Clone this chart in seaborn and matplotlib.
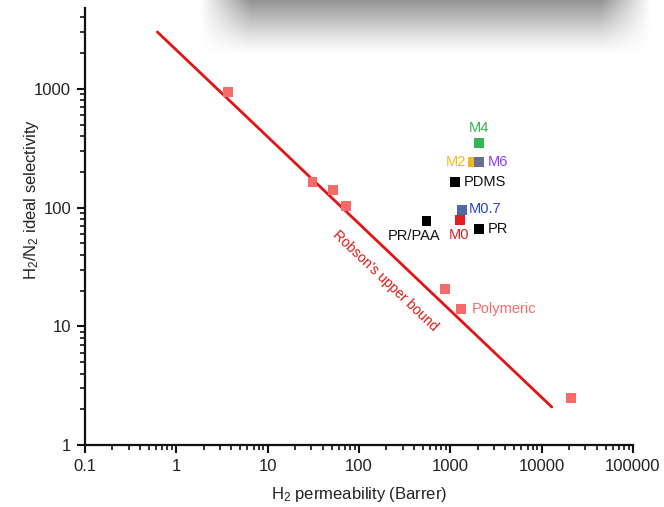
import numpy as np
import pandas as pd
import matplotlib
matplotlib.use("Agg")
import matplotlib.pyplot as plt
import seaborn as sns
from matplotlib.ticker import FixedLocator, LogLocator, NullFormatter, FuncFormatter

# ---- data ----
poly_x = [3.7, 31, 52, 72, 870, 1310, 20900]
poly_y = [940, 164, 141, 103, 20.6, 14.0, 2.5]

robson_x = [0.62, 12900]
robson_y = [3015, 2.09]

mem_names = ["M4", "M2", "M6", "PDMS", "M0.7", "M0", "PR/PAA", "PR"]
mem_x = [2070, 1780, 2070, 1125, 1340, 1280, 550, 2070]
mem_y = [350, 242, 242, 164, 95.5, 78.6, 77, 66]
mem_colors = ["#35b553", "#f2b526", "#6a6c95", "#000000", "#4a6aa8", "#e51c23", "#000000", "#000000"]
label_colors = ["#35b553", "#f2b526", "#8b3ff5", "#111111", "#2b44c8", "#e51c23", "#111111", "#111111"]

x_ticks = [0.1, 1, 10, 100, 1000, 10000, 100000]
y_ticks = [1, 10, 100, 1000]

# ---- style ----
sns.set_style("ticks")
plt.rcParams["font.family"] = ["Liberation Sans", "DejaVu Sans"]
plt.rcParams["mathtext.default"] = "regular"

fig = plt.figure(figsize=(6.64, 5.07), dpi=100)
ax = fig.add_axes([85 / 664, 62 / 507, (633 - 85) / 664, (445 - 8) / 507])

poly_df = pd.DataFrame({"x": poly_x, "y": poly_y})
mem_df = pd.DataFrame({"x": mem_x, "y": mem_y, "name": mem_names})
rob_df = pd.DataFrame({"x": robson_x, "y": robson_y})

sns.lineplot(data=rob_df, x="x", y="y", color="#e41414", lw=2.0, ax=ax)
sns.scatterplot(data=poly_df, x="x", y="y", marker="s", s=48, color="#f76a6a",
                edgecolor="none", ax=ax, zorder=3)
sns.scatterplot(data=mem_df, x="x", y="y", hue="name", palette=dict(zip(mem_names, mem_colors)),
                marker="s", s=48, edgecolor="none", ax=ax, legend=False, zorder=4)

ax.set_xscale("log")
ax.set_yscale("log")
ax.set_xlim(0.1, 100000)
ax.set_ylim(1, 4800)

ax.xaxis.set_major_locator(FixedLocator(x_ticks))
ax.yaxis.set_major_locator(FixedLocator(y_ticks))
ax.xaxis.set_minor_locator(LogLocator(base=10, subs=np.arange(2, 10)))
ax.yaxis.set_minor_locator(LogLocator(base=10, subs=np.arange(2, 10)))
ax.xaxis.set_minor_formatter(NullFormatter())
ax.yaxis.set_minor_formatter(NullFormatter())
ax.xaxis.set_major_formatter(FuncFormatter(lambda v, p: "0.1" if v < 1 else "%d" % round(v)))
ax.yaxis.set_major_formatter(FuncFormatter(lambda v, p: "%d" % round(v)))

for s in ["top", "right"]:
    ax.spines[s].set_visible(False)
for s in ["left", "bottom"]:
    ax.spines[s].set_linewidth(1.6)
    ax.spines[s].set_color("#111111")
ax.tick_params(which="major", direction="out", length=6, width=1.5, labelsize=12,
               colors="#111111", labelcolor="#222222", pad=4)
ax.tick_params(which="minor", direction="out", length=3.5, width=1.2, colors="#111111")

ax.set_xlabel("H$_2$ permeability (Barrer)", fontsize=12, color="#222222")
ax.set_ylabel("H$_2$/N$_2$ ideal selectivity", fontsize=12, color="#222222")
ax.xaxis.set_label_coords(0.5, (445 - 495) / 437)
ax.xaxis.label.set_va("center")
ax.yaxis.set_label_coords((32 - 85) / 548, (445 - 199) / 437)
ax.yaxis.label.set_va("center")

# ---- annotations ----
fs = 10.5
def lab(i, dx, dy, ha, va="center"):
    ax.annotate(mem_names[i], (mem_x[i], mem_y[i]), xytext=(dx, dy), textcoords="offset points",
                ha=ha, va=va, fontsize=fs, color=label_colors[i])

lab(0, 0, 11, "center")      # M4
lab(1, -5, 0, "right")       # M2
lab(2, 6, 0, "left")         # M6
lab(3, 6, 0, "left")         # PDMS
lab(4, 5, 1, "left")         # M0.7
lab(5, -1, -11, "center")    # M0
lab(6, 10, -11, "right")     # PR/PAA
lab(7, 6, 0, "left")         # PR

ax.annotate("Polymeric", (poly_x[5], poly_y[5]), xytext=(8, 0), textcoords="offset points",
            ha="left", va="center", fontsize=10.5, color="#f76a6a")

ax.text(195, 24, "Robson's upper bound", rotation=-43.5, rotation_mode="anchor",
        ha="center", va="center", fontsize=10, color="#e41414",
        transform=ax.transData)

# ---- blurred grey band at top ----
h, w = 58, 450
yy = np.arange(h)[:, None]
xx = np.arange(w)[None, :]
fy = np.clip((54 - yy) / 54.0, 0, 1) ** 1.2
fx = np.clip(np.minimum(xx - 0, w - xx) / 50.0, 0, 1)
g = 1 - 0.42 * fy * fx
img = np.dstack([g, g, g])
bax = fig.add_axes([200 / 664, 1 - h / 507, w / 664, h / 507])
bax.imshow(img, aspect="auto", interpolation="bilinear", vmin=0, vmax=1)
bax.axis("off")

fig.savefig("out.png", dpi=100)
